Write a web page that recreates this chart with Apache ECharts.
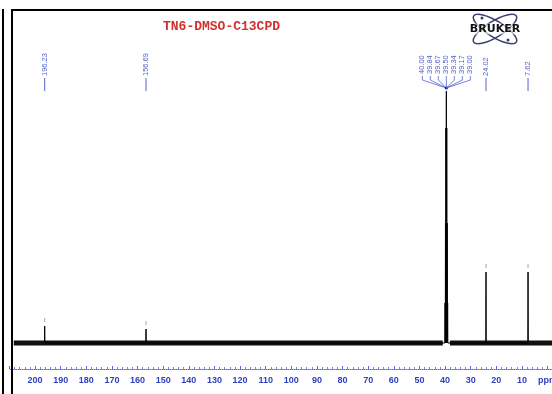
<!DOCTYPE html>
<html>
<head>
<meta charset="utf-8">
<script src="https://cdn.jsdelivr.net/npm/echarts@6/dist/echarts.min.js"></script>
<style>
  html, body { margin: 0; padding: 0; background: #fff; }
  #main { width: 552px; height: 394px; }
</style>
</head>
<body>
<div id="main"></div>
<script>
// single peaks (ppm, height above baseline in chart units)
var peakPpm = [196.23, 156.69, 24.02, 7.62];
var peakHeight = [17, 14, 71, 71];
var peakLabels = ['196.23', '156.69', '24.02', '7.62'];

// DMSO-d6 septet
var clusterPpm = [40.00, 39.84, 39.67, 39.50, 39.34, 39.17, 39.00];
var clusterHeight = [40, 120, 215, 252, 215, 120, 40];
var clusterLabels = ['40.00', '39.84', '39.67', '39.50', '39.34', '39.17', '39.00'];

var title = 'TN6-DMSO-C13CPD';

var BLUE = '#2f3fc0';
var LABEL_BLUE = '#5563c8';

var dom = document.getElementById('main');
var myChart = echarts.init(dom);

// spectrum: each line is a narrow triangle from the baseline
var allPeaks = [];
for (var i = 0; i < peakPpm.length; i++) allPeaks.push([peakPpm[i], peakHeight[i]]);
for (var j = 0; j < clusterPpm.length; j++) allPeaks.push([clusterPpm[j], clusterHeight[j]]);
allPeaks.sort(function (a, b) { return b[0] - a[0]; });

var spectrum = [];
allPeaks.forEach(function (p) {
  spectrum.push([p[0] + 0.09, 0], [p[0], p[1]], [p[0] - 0.09, 0]);
});

var markers = peakPpm.map(function (p, i) { return [p, peakHeight[i] + 6]; });

function renderSingle(params, api) {
  var x = api.coord([api.value(0), 0])[0];
  return {
    type: 'group',
    children: [{
      type: 'text',
      x: x, y: 76,
      rotation: Math.PI / 2,
      style: {
        text: peakLabels[params.dataIndex],
        fill: LABEL_BLUE,
        font: '7.5px "Liberation Sans"',
        align: 'left',
        verticalAlign: 'middle'
      }
    }, {
      type: 'line',
      shape: { x1: x, y1: 78, x2: x, y2: 91 },
      style: { stroke: LABEL_BLUE, lineWidth: 1 }
    }]
  };
}

function renderCluster(params, api) {
  var cx = api.coord([39.5, 0])[0];
  var i = params.dataIndex;
  var lx = cx + (i - 3) * 8;
  var children = [{
    type: 'text',
    x: lx, y: 74,
    rotation: Math.PI / 2,
    style: {
      text: clusterLabels[i],
      fill: LABEL_BLUE,
      font: '7.5px "Liberation Sans"',
      align: 'left',
      verticalAlign: 'middle'
    }
  }, {
    type: 'polyline',
    shape: { points: [[lx, 76], [lx, 80], [cx, 88]] },
    style: { stroke: LABEL_BLUE, lineWidth: 0.8, fill: null }
  }];
  if (i === 3) {
    children.push({
      type: 'circle',
      shape: { cx: cx, cy: 88, r: 1.6 },
      style: { fill: '#1a2aa8' }
    });
  }
  return { type: 'group', children: children };
}

option = {
  animation: false,
  backgroundColor: '#fff',
  title: {
    text: title,
    left: 158,
    top: 15,
    textStyle: {
      color: '#d13030',
      fontFamily: '"Liberation Mono", "DejaVu Sans Mono", monospace',
      fontWeight: 'bold',
      fontSize: 13
    }
  },
  grid: { left: 9.4, width: 563.8, top: 12, bottom: 25, outerBoundsMode: 'none', containLabel: false },
  xAxis: {
    type: 'value',
    inverse: true,
    min: -10,
    max: 210,
    interval: 10,
    axisLine: { show: true, onZero: false, lineStyle: { color: '#5a68dd', type: 'dotted', width: 1 } },
    axisTick: { show: true, inside: true, length: 3, lineStyle: { color: '#5a68dd' } },
    minorTick: { show: true, splitNumber: 5, length: 2, lineStyle: { color: '#7c88e0' } },
    splitLine: { show: false },
    axisLabel: {
      color: BLUE,
      fontWeight: 'bold',
      fontSize: 9,
      fontFamily: '"Liberation Sans", Arial',
      margin: 7,
      formatter: function (v) {
        if (v === 0) return 'ppm';
        if (v < 0 || v > 200) return '';
        return v;
      }
    }
  },
  yAxis: { type: 'value', min: -26, max: 331, show: false },
  graphic: [
    { type: 'line', z: 100, shape: { x1: 3, y1: 9, x2: 3, y2: 394 }, style: { stroke: '#000', lineWidth: 2 } },
    { type: 'line', z: 100, shape: { x1: 12, y1: 9, x2: 12, y2: 394 }, style: { stroke: '#000', lineWidth: 2 } },
    { type: 'line', z: 100, shape: { x1: 11, y1: 10, x2: 552, y2: 10 }, style: { stroke: '#000', lineWidth: 2 } },
    {
      type: 'group', z: 100, x: 495, y: 29,
      children: [
        { type: 'ellipse', rotation: 0.55, shape: { cx: 0, cy: 0, rx: 25, ry: 8 }, style: { stroke: '#3a3f70', lineWidth: 1.5, fill: null } },
        { type: 'ellipse', rotation: -0.55, shape: { cx: 0, cy: 0, rx: 25, ry: 8 }, style: { stroke: '#3a3f70', lineWidth: 1.5, fill: null } },
        { type: 'circle', shape: { cx: -13, cy: -11, r: 1.5 }, style: { fill: '#3a3f70' } },
        { type: 'circle', shape: { cx: 13, cy: 11, r: 1.5 }, style: { fill: '#3a3f70' } },
        {
          type: 'text', x: 0, y: 0,
          style: {
            text: 'BRUKER', fill: '#111', font: 'bold 11px "DejaVu Sans"',
            align: 'center', verticalAlign: 'middle',
            backgroundColor: 'rgba(255,255,255,0.6)'
          }
        }
      ]
    }
  ],
  series: [
    {
      type: 'line', silent: true, showSymbol: false,
      data: [[208.3, 0], [40.9, 0]],
      lineStyle: { color: '#111', width: 5 }
    },
    {
      type: 'line', silent: true, showSymbol: false,
      data: [[38.1, 0], [-3, 0]],
      lineStyle: { color: '#111', width: 5 }
    },
    {
      type: 'line', silent: true, showSymbol: false,
      data: spectrum,
      lineStyle: { color: '#000', width: 1 }
    },
    {
      type: 'scatter', silent: true,
      symbol: 'rect', symbolSize: [1, 4],
      itemStyle: { color: '#7f8ac8' },
      data: markers
    },
    {
      type: 'custom', silent: true,
      renderItem: renderSingle,
      data: peakPpm.map(function (p) { return [p, 0]; })
    },
    {
      type: 'custom', silent: true,
      renderItem: renderCluster,
      data: clusterPpm.map(function (p) { return [p, 0]; })
    }
  ]
};
if (option && typeof option === 'object') {
  myChart.setOption(option, true);
}
</script>
</body>
</html>
